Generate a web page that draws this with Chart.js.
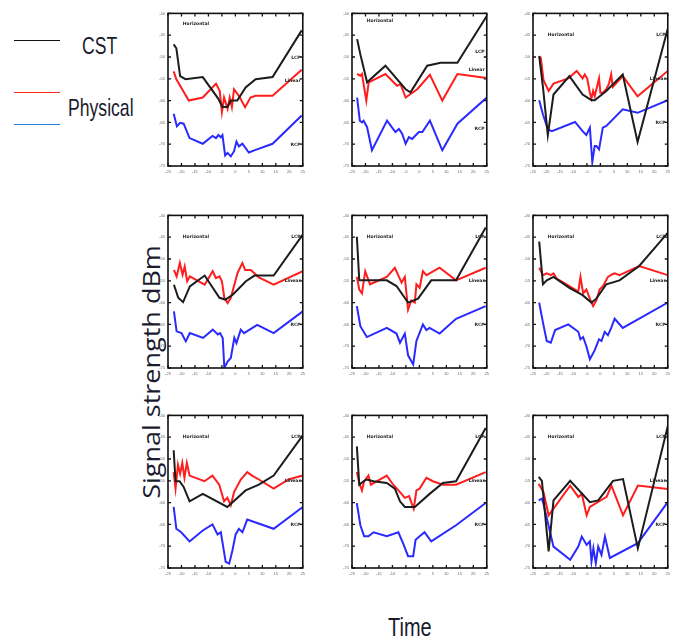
<!DOCTYPE html>
<html>
<head>
    <meta charset="UTF-8">
    <title>Signal strength</title>
    <script src="https://cdn.jsdelivr.net/npm/chart.js"></script>
    <style>
        body { margin: 0; background: #fff; }
        #page { position: relative; width: 680px; height: 639px; overflow: hidden; }
        #page canvas { position: absolute; }
        .key { position: absolute; left: 14px; width: 46px; height: 0; border-top: 1.5px solid; }
        .txt { position: absolute; color: #1b1b2e; white-space: nowrap; }
        .narrow { font-family: 'Liberation Sans', Arial, sans-serif; transform-origin: left top; }
    </style>
</head>
<body>
<div id="page">
    <div class="key" style="top:40px; border-color:#111;"></div>
    <div class="key" style="top:92px; border-color:#ff2a2a;"></div>
    <div class="key" style="top:124px; border-color:#2a7be0;"></div>
    <div class="txt narrow" style="left:82px; top:32px; font-size:22px; transform:scale(0.8,1.1);">CST</div>
    <div class="txt narrow" style="left:68px; top:94px; font-size:22px; transform:scale(0.8,1.1);">Physical</div>
    <div class="txt" style="left:151px; top:372px; font:27px 'Open Sans', sans-serif; transform:translate(-50%,-50%) rotate(-90deg) scaleY(0.85);">Signal strength dBm</div>
    <div class="txt narrow" style="left:388px; top:612px; font-size:25px; transform:scale(0.8,1.05);">Time</div>
</div>

<script>
    // axis ticks shared by all nine panels
    var xTicks = [-25, -20, -15, -10, -5, 0, 5, 10, 15, 20, 25];
    var yTicks = [-75, -70, -65, -60, -55, -50, -45, -40];

    // [time, dBm] pairs, one set of three traces per panel (row by row)
    var cst1 = [[-22.9,-47.1],[-21.9,-48.0],[-20.5,-54.4],[-18.5,-55.1],[-12.1,-54.6],[-6.3,-59.6],[-4.8,-61.5],[-2.9,-61.4],[-1.7,-60.0],[0.7,-60.0],[3.8,-57.0],[7.5,-55.1],[13.8,-54.6],[24.6,-43.9]];
    var phy1 = [[-22.9,-53.3],[-21.9,-55.1],[-17.3,-60.0],[-12.1,-59.3],[-7.2,-56.1],[-5.8,-57.8],[-5.0,-62.6],[-4.2,-59.3],[-2.9,-61.9],[-2.1,-59.3],[-1.3,-61.5],[-0.5,-57.4],[1.3,-58.9],[3.6,-61.5],[5.6,-59.3],[7.5,-58.9],[13.8,-58.9],[24.6,-52.9]];
    var ref1 = [[-22.9,-63.0],[-21.7,-65.9],[-20.5,-65.1],[-19.2,-65.3],[-17.0,-68.6],[-12.1,-69.9],[-8.5,-68.1],[-7.2,-68.6],[-6.3,-67.9],[-5.4,-68.4],[-4.8,-67.9],[-3.8,-72.6],[-2.9,-72.0],[-1.7,-72.8],[-0.5,-71.6],[0.4,-69.4],[1.3,-70.5],[2.6,-69.9],[5.0,-71.9],[7.5,-71.3],[13.8,-69.9],[24.6,-63.4]];

    var cst2 = [[-23.1,-45.9],[-21.9,-49.4],[-19.4,-55.8],[-12.6,-52.0],[-5.1,-57.4],[-3.3,-58.1],[2.9,-52.0],[7.9,-51.3],[14.1,-51.3],[25.0,-40.6]];
    var phy2 = [[-23.1,-53.9],[-21.9,-54.3],[-21.3,-53.9],[-19.7,-60.0],[-18.8,-55.8],[-12.6,-53.9],[-8.3,-56.6],[-7.0,-56.2],[-5.1,-59.3],[-0.8,-57.4],[3.9,-54.1],[8.5,-60.0],[14.1,-53.9],[25.0,-54.8]];
    var ref2 = [[-23.1,-59.3],[-22.1,-64.6],[-21.3,-65.0],[-20.7,-64.6],[-19.4,-66.1],[-17.6,-71.4],[-12.0,-64.6],[-8.9,-67.2],[-7.6,-66.5],[-6.4,-67.6],[-5.1,-69.9],[-3.9,-68.4],[-2.7,-68.8],[-0.2,-67.2],[1.1,-67.2],[3.9,-64.6],[8.5,-71.4],[14.1,-65.3],[25.0,-59.3]];

    var cst3 = [[-22.7,-49.8],[-21.3,-56.9],[-19.5,-67.9],[-17.4,-58.6],[-11.5,-54.4],[-6.6,-58.6],[-3.3,-59.9],[-2.1,-59.9],[2.2,-57.8],[8.3,-54.0],[13.8,-69.5],[25.0,-43.5]];
    var phy3 = [[-22.7,-49.8],[-22.1,-50.2],[-21.1,-55.3],[-19.2,-57.8],[-17.4,-56.1],[-11.9,-54.9],[-8.8,-53.2],[-6.6,-54.9],[-5.8,-54.0],[-4.9,-54.9],[-3.9,-58.2],[-3.3,-59.5],[-2.7,-57.8],[-2.1,-59.0],[-0.5,-54.9],[0.0,-58.2],[1.0,-58.2],[2.2,-57.4],[3.2,-56.1],[4.0,-54.0],[4.6,-56.9],[8.3,-54.4],[13.8,-59.0],[25.0,-53.2]];
    var ref3 = [[-22.7,-59.9],[-21.3,-63.2],[-19.5,-66.6],[-18.0,-67.0],[-9.4,-64.9],[-6.6,-67.0],[-5.2,-67.9],[-3.9,-66.2],[-3.0,-74.1],[-2.1,-70.4],[-1.5,-70.4],[-0.5,-71.2],[0.9,-66.2],[2.2,-65.8],[8.3,-62.0],[13.8,-62.8],[25.0,-59.9]];

    var cst4 = [[-22.8,-55.9],[-21.2,-58.9],[-19.4,-59.9],[-16.9,-56.3],[-11.4,-53.8],[-5.9,-58.9],[-3.7,-59.3],[-1.0,-58.2],[3.9,-55.1],[7.1,-53.8],[14.2,-53.8],[25.0,-44.4]];
    var phy4 = [[-22.8,-52.5],[-21.8,-54.0],[-20.6,-50.9],[-19.6,-53.6],[-18.8,-51.7],[-17.9,-55.1],[-16.9,-54.0],[-11.4,-55.9],[-8.4,-52.8],[-7.2,-54.4],[-5.9,-54.0],[-5.0,-55.1],[-4.1,-58.9],[-2.9,-60.1],[-1.7,-58.9],[0.8,-53.2],[2.6,-50.9],[3.6,-52.5],[5.7,-52.5],[8.7,-54.2],[14.2,-55.9],[25.0,-52.8]];
    var ref4 = [[-22.8,-62.0],[-21.8,-66.6],[-20.0,-67.0],[-18.4,-68.9],[-16.9,-67.0],[-12.0,-68.1],[-8.4,-66.2],[-6.5,-67.3],[-5.7,-67.0],[-4.7,-68.1],[-4.1,-75.0],[-2.9,-73.5],[-1.7,-72.7],[-0.4,-68.1],[0.4,-69.3],[2.0,-66.2],[3.2,-67.0],[8.1,-65.1],[14.2,-67.0],[25.0,-62.0]];

    var cst5 = [[-23.2,-44.9],[-22.3,-54.9],[-19.5,-54.9],[-12.1,-54.9],[-8.5,-56.2],[-4.2,-60.0],[-0.5,-59.1],[4.4,-54.9],[13.6,-54.9],[24.6,-42.8]];
    var phy5 = [[-23.2,-54.1],[-22.3,-57.0],[-21.3,-57.9],[-20.1,-52.8],[-18.3,-55.8],[-12.1,-54.1],[-9.1,-52.0],[-6.6,-55.4],[-5.4,-54.1],[-4.2,-61.6],[-3.0,-59.5],[-1.7,-60.0],[-1.1,-55.8],[0.1,-56.6],[1.3,-52.8],[2.6,-53.7],[7.5,-52.0],[13.6,-54.9],[24.6,-52.0]];
    var ref5 = [[-23.2,-60.8],[-21.9,-65.4],[-19.5,-67.9],[-12.1,-65.8],[-8.5,-67.1],[-7.2,-69.2],[-5.4,-67.1],[-4.2,-72.1],[-2.3,-74.2],[-1.1,-68.8],[1.3,-65.0],[2.6,-66.3],[3.8,-65.8],[7.5,-67.1],[13.6,-63.7],[24.6,-60.8]];

    var cst6 = [[-22.7,-46.0],[-21.3,-55.8],[-19.9,-54.9],[-17.4,-54.1],[-11.5,-56.6],[-6.6,-58.3],[-3.3,-60.0],[-1.5,-59.1],[2.2,-55.8],[7.1,-54.9],[14.4,-51.6],[25.0,-44.0]];
    var phy6 = [[-22.7,-52.0],[-21.3,-53.7],[-19.9,-53.3],[-18.4,-53.7],[-17.4,-53.3],[-16.2,-54.5],[-11.5,-56.2],[-8.2,-57.5],[-7.4,-54.1],[-6.4,-57.9],[-5.2,-57.0],[-3.9,-59.1],[-2.7,-60.8],[-1.5,-59.5],[-0.3,-57.0],[1.0,-56.2],[2.8,-54.1],[4.4,-53.5],[5.3,-53.3],[7.1,-53.7],[14.4,-51.6],[25.0,-53.7]];
    var ref6 = [[-22.7,-60.0],[-21.3,-64.6],[-19.9,-68.8],[-18.4,-69.2],[-16.8,-66.3],[-11.9,-65.0],[-8.2,-66.7],[-7.4,-68.4],[-6.4,-67.9],[-5.2,-70.0],[-3.9,-73.0],[-2.1,-70.9],[-0.5,-68.4],[0.4,-68.8],[1.6,-66.7],[2.8,-67.5],[4.0,-65.8],[5.3,-63.7],[8.3,-65.8],[25.0,-60.0]];

    var cst7 = [[-22.9,-48.0],[-22.2,-55.1],[-20.7,-55.1],[-19.2,-56.4],[-17.0,-59.7],[-12.1,-58.0],[-3.0,-61.0],[3.8,-57.2],[8.7,-55.9],[14.2,-53.8],[25.0,-44.6]];
    var phy7 = [[-22.9,-53.0],[-22.2,-56.8],[-21.3,-51.3],[-20.5,-53.4],[-19.7,-50.9],[-18.9,-54.3],[-18.0,-50.9],[-17.0,-53.8],[-11.5,-55.1],[-8.5,-53.8],[-6.0,-55.9],[-4.2,-59.7],[-3.0,-58.9],[-1.7,-60.6],[-0.5,-57.6],[2.0,-54.7],[4.4,-53.0],[6.2,-53.8],[8.7,-54.7],[14.2,-56.8],[19.7,-54.7],[25.0,-53.8]];
    var ref7 = [[-22.9,-61.0],[-21.9,-66.0],[-20.1,-66.8],[-17.0,-68.9],[-12.1,-66.4],[-8.5,-65.0],[-6.6,-67.3],[-5.4,-66.8],[-4.5,-70.2],[-3.6,-73.6],[-2.3,-74.0],[-1.1,-71.0],[0.1,-67.3],[1.3,-66.0],[2.6,-66.8],[4.4,-63.9],[14.2,-66.0],[25.0,-61.0]];

    var cst8 = [[-23.2,-47.1],[-22.3,-55.9],[-20.7,-55.1],[-19.5,-54.7],[-17.0,-55.1],[-12.1,-55.5],[-9.1,-56.8],[-7.2,-59.7],[-5.4,-61.0],[-1.7,-61.0],[3.8,-58.0],[8.7,-55.5],[13.6,-55.1],[24.6,-42.9]];
    var phy8 = [[-23.2,-53.0],[-22.3,-55.5],[-21.3,-57.2],[-20.5,-55.1],[-18.9,-53.8],[-18.0,-55.9],[-12.1,-53.8],[-9.7,-55.9],[-7.2,-57.6],[-5.4,-58.9],[-3.8,-58.5],[-2.9,-60.1],[-2.1,-61.4],[-1.1,-57.2],[0.1,-56.8],[2.6,-54.3],[5.0,-55.1],[8.7,-55.9],[13.6,-55.9],[24.6,-53.0]];
    var ref8 = [[-23.2,-60.1],[-21.9,-65.2],[-20.5,-67.7],[-18.9,-67.7],[-17.0,-66.8],[-12.1,-67.7],[-7.8,-66.8],[-6.0,-69.4],[-4.2,-72.3],[-2.3,-72.3],[-1.4,-68.5],[0.1,-67.7],[1.9,-66.8],[4.4,-68.9],[13.6,-65.2],[24.6,-60.1]];

    var cst9 = [[-22.9,-54.1],[-21.7,-55.0],[-19.2,-71.2],[-17.4,-59.5],[-11.2,-55.0],[-3.9,-59.9],[-0.8,-59.5],[4.7,-55.0],[8.4,-54.6],[13.9,-70.5],[25.0,-42.5]];
    var phy9 = [[-22.9,-55.7],[-21.1,-57.6],[-19.2,-62.9],[-11.2,-56.1],[-8.2,-58.7],[-6.9,-58.0],[-5.1,-62.9],[-3.9,-61.0],[2.3,-58.7],[4.1,-56.1],[8.4,-62.9],[13.9,-56.1],[25.0,-56.9]];
    var ref9 = [[-22.9,-59.5],[-21.7,-59.1],[-21.1,-60.3],[-17.4,-70.1],[-11.2,-73.1],[-8.2,-70.1],[-6.9,-67.8],[-5.1,-69.7],[-3.9,-68.9],[-3.3,-73.5],[-2.6,-70.5],[-1.7,-73.9],[-0.8,-70.1],[0.4,-72.0],[1.7,-67.8],[3.5,-72.7],[13.9,-69.3],[25.0,-59.9]];

    // panel placement on the page and where the small captions sit (in axis units)
    var colLeft = [168, 352, 533];
    var rowTop = [11.5, 214, 414];
    var plotW = 136, plotH = 154;
    var padL = 14, padT = 4, padR = 4, padB = 12;

    var panels = [
        { cst: cst1, phy: phy1, ref: ref1, titleY: -42.4, sideY: [-50.3, -55.4, -70.1] },
        { cst: cst2, phy: phy2, ref: ref2, titleY: -41.6, sideY: [-48.8, -52.9, -66.5] },
        { cst: cst3, phy: phy3, ref: ref3, titleY: -45, sideY: [-45, -55, -65] },
        { cst: cst4, phy: phy4, ref: ref4, titleY: -45, sideY: [-45, -55, -65] },
        { cst: cst5, phy: phy5, ref: ref5, titleY: -45, sideY: [-45, -55, -65] },
        { cst: cst6, phy: phy6, ref: ref6, titleY: -45, sideY: [-45, -55, -65] },
        { cst: cst7, phy: phy7, ref: ref7, titleY: -45, sideY: [-45, -55, -65] },
        { cst: cst8, phy: phy8, ref: ref8, titleY: -45, sideY: [-45, -55, -65] },
        { cst: cst9, phy: phy9, ref: ref9, titleY: -45, sideY: [-45, -55, -65] }
    ];
    var sideText = ['LCP', 'Linear', 'RCP'];

    function toPoints(pairs) {
        return pairs.map(function (p) { return { x: p[0], y: p[1] }; });
    }

    function trace(pairs, color) {
        return {
            data: toPoints(pairs),
            borderColor: color,
            borderWidth: 2,
            pointRadius: 0,
            tension: 0,
            fill: false
        };
    }

    // box frame with inward tick marks on all four sides
    var framePlugin = {
        id: 'frame',
        afterDatasetsDraw: function (chart) {
            var ctx = chart.ctx, a = chart.chartArea;
            var xs = chart.scales.x, ys = chart.scales.y;
            ctx.save();
            ctx.strokeStyle = '#111';
            ctx.lineWidth = 1.6;
            ctx.strokeRect(a.left, a.top, a.right - a.left, a.bottom - a.top);
            ctx.lineWidth = 1.3;
            ctx.beginPath();
            xTicks.forEach(function (v) {
                var px = xs.getPixelForValue(v);
                ctx.moveTo(px, a.bottom); ctx.lineTo(px, a.bottom - 3);
                ctx.moveTo(px, a.top); ctx.lineTo(px, a.top + 3);
            });
            yTicks.forEach(function (v) {
                var py = ys.getPixelForValue(v);
                ctx.moveTo(a.left, py); ctx.lineTo(a.left + 3, py);
                ctx.moveTo(a.right, py); ctx.lineTo(a.right - 3, py);
            });
            ctx.stroke();

            // small captions inside the box
            var cfg = chart.options.plugins.frame;
            ctx.fillStyle = '#222';
            ctx.font = 'bold 4.5px "DejaVu Sans", sans-serif';
            ctx.textBaseline = 'middle';
            ctx.textAlign = 'left';
            ctx.fillText('Horizontal', xs.getPixelForValue(-19.5), ys.getPixelForValue(cfg.titleY));
            ctx.textAlign = 'right';
            cfg.sideY.forEach(function (v, i) {
                ctx.fillText(sideText[i], xs.getPixelForValue(24.2), ys.getPixelForValue(v));
            });
            ctx.restore();
        }
    };

    var page = document.getElementById('page');

    panels.forEach(function (p, i) {
        var canvas = document.createElement('canvas');
        canvas.width = padL + plotW + padR;
        canvas.height = padT + plotH + padB;
        canvas.style.left = (colLeft[i % 3] - padL) + 'px';
        canvas.style.top = (rowTop[Math.floor(i / 3)] - padT) + 'px';
        page.appendChild(canvas);

        new Chart(canvas, {
            type: 'line',
            data: {
                datasets: [
                    trace(p.cst, '#1c1c1c'),
                    trace(p.phy, '#ff1e1e'),
                    trace(p.ref, '#2a2aff')
                ]
            },
            options: {
                responsive: false,
                animation: false,
                layout: { padding: { top: padT, right: padR } },
                plugins: {
                    legend: { display: false },
                    tooltip: { enabled: false },
                    frame: { titleY: p.titleY, sideY: p.sideY }
                },
                scales: {
                    x: {
                        type: 'linear', min: -25, max: 25,
                        afterBuildTicks: function (s) { s.ticks = xTicks.map(function (v) { return { value: v }; }); },
                        afterFit: function (s) { s.height = padB; },
                        grid: { display: false, drawTicks: false },
                        border: { display: false },
                        ticks: { font: { size: 4 }, color: '#666', padding: 3, maxRotation: 0, autoSkip: false }
                    },
                    y: {
                        type: 'linear', min: -75, max: -40,
                        afterBuildTicks: function (s) { s.ticks = yTicks.map(function (v) { return { value: v }; }); },
                        afterFit: function (s) { s.width = padL; },
                        grid: { display: false, drawTicks: false },
                        border: { display: false },
                        ticks: { font: { size: 4 }, color: '#666', padding: 3, autoSkip: false }
                    }
                }
            },
            plugins: [framePlugin]
        });
    });
</script>
</body>
</html>
